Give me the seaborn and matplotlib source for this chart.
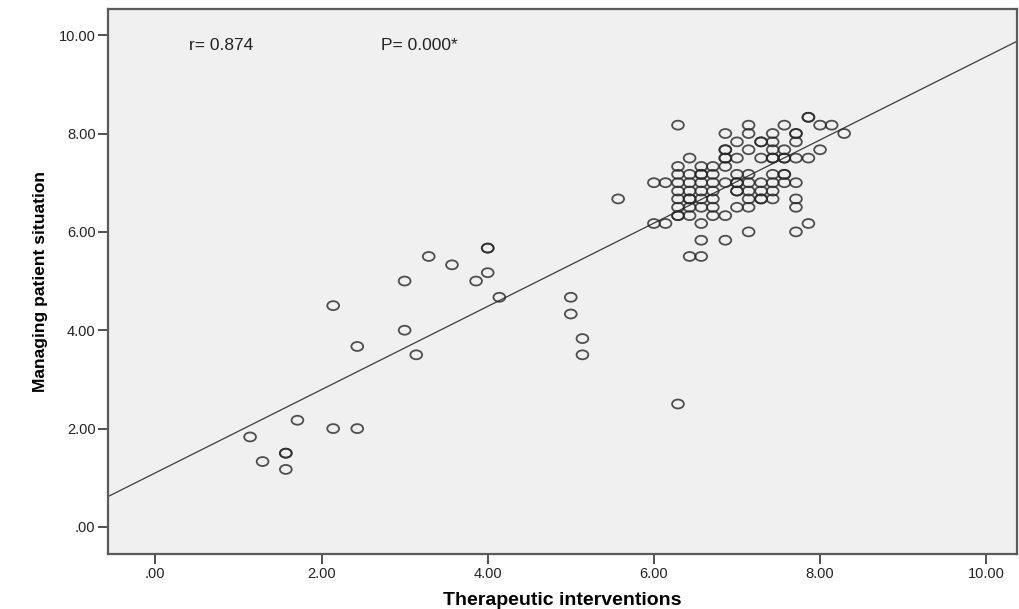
import numpy as np
import pandas as pd
import seaborn as sns
import matplotlib
matplotlib.use("Agg")
import matplotlib.pyplot as plt
from matplotlib.path import Path
from matplotlib.transforms import Affine2D
from matplotlib.ticker import FixedLocator, FuncFormatter

# scattered cases outside the main cluster
low_x = [1.14, 1.29, 1.57, 1.57, 1.57, 1.71, 2.14, 2.14, 2.43, 2.43,
         3.00, 3.00, 3.14, 3.29, 3.57, 3.86, 4.00, 4.00, 4.00, 4.14,
         5.00, 5.00, 5.14, 5.14, 5.57, 6.29]
low_y = [1.83, 1.33, 1.50, 1.50, 1.17, 2.17, 4.50, 2.00, 3.67, 2.00,
         5.00, 4.00, 3.50, 5.50, 5.33, 5.00, 5.67, 5.67, 5.17, 4.67,
         4.67, 4.33, 3.83, 3.50, 6.67, 2.50]

# dense cluster, one list of x values per y level
cluster_y = [8.33, 8.17, 8.00, 7.83, 7.67, 7.50, 7.33, 7.17, 7.00,
             6.83, 6.67, 6.50, 6.33, 6.17, 6.00, 5.83, 5.50]
cluster_x = [
    [7.86, 7.86],
    [6.29, 7.14, 7.57, 8.00, 8.14],
    [6.86, 7.14, 7.43, 7.71, 7.71, 8.29],
    [7.00, 7.29, 7.29, 7.43, 7.71],
    [6.86, 6.86, 7.14, 7.43, 7.57, 8.00],
    [6.43, 6.86, 6.86, 7.00, 7.29, 7.43, 7.43, 7.57, 7.57, 7.71, 7.86],
    [6.29, 6.57, 6.71, 6.86],
    [6.29, 6.43, 6.57, 6.57, 6.71, 7.00, 7.14, 7.43, 7.57, 7.57],
    [6.00, 6.14, 6.29, 6.43, 6.57, 6.71, 6.86, 7.00, 7.00, 7.14, 7.29,
     7.43, 7.57, 7.71],
    [6.29, 6.43, 6.57, 6.71, 7.00, 7.00, 7.14, 7.29, 7.43],
    [6.29, 6.43, 6.43, 6.57, 6.71, 7.14, 7.29, 7.29, 7.43, 7.71],
    [6.29, 6.43, 6.57, 6.71, 7.00, 7.14, 7.71],
    [6.29, 6.29, 6.43, 6.71, 6.86],
    [6.00, 6.14, 6.57, 7.86],
    [7.14, 7.71],
    [6.57, 6.86],
    [6.43, 6.57],
]

xs = list(low_x)
ys = list(low_y)
for lvl, row in zip(cluster_y, cluster_x):
    xs += row
    ys += [lvl] * len(row)
df = pd.DataFrame({"Therapeutic interventions": xs,
                   "Managing patient situation": ys})

r_text = "r= 0.874"
p_text = "P= 0.000*"
ticks = [0, 2, 4, 6, 8, 10]

sns.set_theme(style="white")
plt.rcParams["font.family"] = ["Liberation Sans", "DejaVu Sans"]

fig = plt.figure(figsize=(10.19, 6.09), dpi=100)
ax = fig.add_axes([0.106, 0.0903, 0.892, 0.8956])
ax.set_facecolor("#f0f0f0")
ax.set_xlim(-0.57, 10.37)
ax.set_ylim(-0.55, 10.54)

# SPSS draws the circles a bit wider than tall
ring = Path.unit_circle().transformed(Affine2D().scale(1.0, 0.76))

sns.regplot(data=df, x="Therapeutic interventions", y="Managing patient situation",
            scatter=False, ci=None, truncate=False, ax=ax,
            line_kws={"color": "#3c3c3c", "lw": 0.9})
sns.scatterplot(data=df, x="Therapeutic interventions", y="Managing patient situation",
                marker=ring, s=72, facecolors="none",
                edgecolor=(0.15, 0.15, 0.15, 0.8), linewidth=1.3, ax=ax, zorder=3)

ax.text(0.40, 9.78, r_text, fontsize=12.5, va="center", color="#222222")
ax.text(2.71, 9.78, p_text, fontsize=12.5, va="center", color="#222222")

fmt = FuncFormatter(lambda v, _: f"{v:.2f}".lstrip("0"))
for axis in (ax.xaxis, ax.yaxis):
    axis.set_major_locator(FixedLocator(ticks))
    axis.set_major_formatter(fmt)
ax.tick_params(axis="both", direction="out", length=7, width=1.3,
               color="#444444", labelsize=10.5, labelcolor="#222222",
               left=True, bottom=True, pad=2)

for sp in ax.spines.values():
    sp.set_color("#5a5a5a")
    sp.set_linewidth(1.6)

ax.set_xlabel("Therapeutic interventions", fontsize=14, fontweight="bold",
              labelpad=8, color="black")
ax.set_ylabel("Managing patient situation", fontsize=12.5, fontweight="bold",
              labelpad=8, color="black")

fig.savefig("out.png", dpi=100)
